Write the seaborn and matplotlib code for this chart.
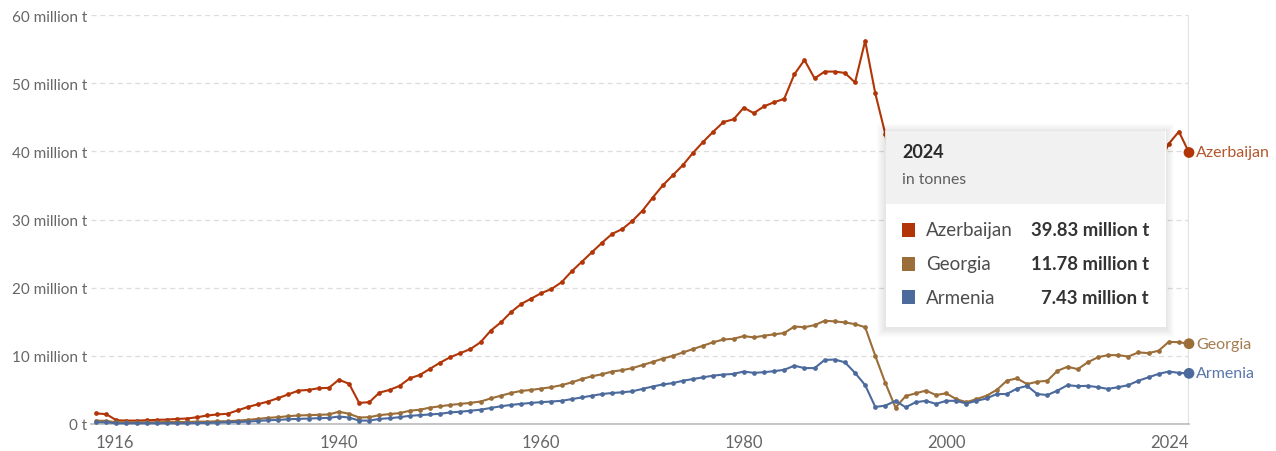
import matplotlib
matplotlib.use("Agg")
import matplotlib.pyplot as plt
import seaborn as sns
import pandas as pd
from matplotlib.patches import Rectangle

# ---------------- data ----------------
years = list(range(1916, 2025))

azerbaijan = [
    1.55, 1.45, 0.55, 0.5, 0.5, 0.55, 0.6, 0.65, 0.75, 0.8,            # 1916-1925
    1.0, 1.25, 1.4, 1.5, 2.0, 2.5, 2.9, 3.3, 3.8, 4.35,                # 1926-1935
    4.9, 5.0, 5.25, 5.3, 6.5, 5.9, 3.1, 3.2, 4.6, 5.0,                 # 1936-1945
    5.6, 6.7, 7.2, 8.1, 9.0, 9.8, 10.4, 11.0, 12.0, 13.7,              # 1946-1955
    14.9, 16.4, 17.6, 18.4, 19.2, 19.8, 20.8, 22.4, 23.8, 25.2,        # 1956-1965
    26.6, 27.9, 28.6, 29.8, 31.3, 33.2, 35.0, 36.5, 38.0, 39.8,        # 1966-1975
    41.4, 42.9, 44.3, 44.7, 46.4, 45.6, 46.6, 47.2, 47.7, 51.3,        # 1976-1985
    53.4, 50.7, 51.7, 51.7, 51.5, 50.1, 56.2, 48.5, 42.5, 31.0,        # 1986-1995
    29.8, 28.5, 29.5, 28.3, 28.7, 27.5, 27.9, 29.6, 31.5, 32.8,        # 1996-2005
    35.6, 28.6, 31.6, 28.0, 27.4, 29.8, 31.8, 32.4, 33.6, 34.7,        # 2006-2015
    34.3, 33.8, 34.9, 36.6, 35.4, 38.0, 41.1, 42.9, 39.83,             # 2016-2024
]
georgia = [
    0.5, 0.45, 0.25, 0.25, 0.25, 0.25, 0.25, 0.3, 0.3, 0.3,
    0.35, 0.35, 0.4, 0.4, 0.5, 0.6, 0.75, 0.9, 1.0, 1.15,
    1.25, 1.3, 1.35, 1.4, 1.8, 1.5, 0.95, 1.0, 1.3, 1.45,
    1.6, 1.95, 2.1, 2.4, 2.6, 2.8, 2.95, 3.1, 3.3, 3.75,
    4.15, 4.55, 4.85, 5.0, 5.2, 5.4, 5.7, 6.1, 6.6, 7.0,
    7.3, 7.7, 7.9, 8.2, 8.65, 9.1, 9.6, 10.0, 10.5, 11.0,
    11.5, 12.0, 12.4, 12.5, 12.9, 12.7, 12.95, 13.15, 13.35, 14.3,
    14.2, 14.5, 15.15, 15.05, 14.9, 14.65, 14.2, 10.0, 6.0, 2.4,
    4.1, 4.5, 4.9, 4.25, 4.5, 3.65, 3.2, 3.65, 4.15, 5.0,
    6.35, 6.7, 5.85, 6.2, 6.35, 7.8, 8.4, 8.05, 9.05, 9.8,
    10.1, 10.1, 9.9, 10.5, 10.4, 10.75, 12.05, 12.0, 11.78,
]
armenia = [
    0.25, 0.25, 0.1, 0.1, 0.1, 0.1, 0.1, 0.1, 0.1, 0.1,
    0.15, 0.15, 0.2, 0.25, 0.3, 0.35, 0.45, 0.55, 0.6, 0.7,
    0.75, 0.8, 0.85, 0.9, 1.1, 0.95, 0.5, 0.5, 0.75, 0.85,
    1.0, 1.2, 1.3, 1.4, 1.5, 1.7, 1.8, 1.95, 2.1, 2.35,
    2.6, 2.8, 2.95, 3.1, 3.2, 3.3, 3.4, 3.65, 3.9, 4.15,
    4.4, 4.55, 4.65, 4.8, 5.15, 5.5, 5.8, 6.0, 6.35, 6.6,
    6.85, 7.1, 7.25, 7.35, 7.7, 7.5, 7.6, 7.75, 7.95, 8.55,
    8.2, 8.2, 9.4, 9.45, 9.05, 7.5, 5.7, 2.5, 2.7, 3.4,
    2.45, 3.2, 3.4, 2.95, 3.4, 3.4, 3.0, 3.4, 3.75, 4.4,
    4.4, 5.2, 5.6, 4.4, 4.25, 4.9, 5.7, 5.55, 5.6, 5.4,
    5.15, 5.4, 5.7, 6.35, 6.85, 7.35, 7.7, 7.5, 7.43,
]

countries = ["Azerbaijan", "Georgia", "Armenia"]
series = {"Azerbaijan": azerbaijan, "Georgia": georgia, "Armenia": armenia}
tooltip_values = ["39.83 million t", "11.78 million t", "7.43 million t"]
tooltip_year = "2024"
tooltip_unit = "in tonnes"

y_ticks = [0, 10, 20, 30, 40, 50, 60]
y_tick_labels = ["0 t", "10 million t", "20 million t", "30 million t",
                 "40 million t", "50 million t", "60 million t"]
x_ticks = [1916, 1940, 1960, 1980, 2000, 2024]
x_tick_labels = ["1916", "1940", "1960", "1980", "2000", "2024"]

# ---------------- style ----------------
colors = {"Azerbaijan": "#b13507", "Georgia": "#9a6d39", "Armenia": "#4c6a9c"}
label_colors = {"Azerbaijan": "#b4562c", "Georgia": "#a27b4f", "Armenia": "#5a78aa"}

sns.set_theme(style="white")
plt.rcParams["font.family"] = ["Lato", "DejaVu Sans"]

W, H = 1276, 452
fig = plt.figure(figsize=(W / 100, H / 100), dpi=100)
fig.patch.set_facecolor("white")

def fx(px):
    return px / W

def fy(py):
    return 1 - py / H

ax_left, ax_right, ax_top, ax_bottom = 91, 1189, 16, 425
ax = fig.add_axes([fx(ax_left), fy(ax_bottom), (ax_right - ax_left) / W,
                   (ax_bottom - ax_top) / H])

df = pd.DataFrame([
    {"year": yr, "value": v, "country": c}
    for c in countries for yr, v in zip(years, series[c])
])

# hover line at last year
ax.axvline(2024, color="#e2e2e2", lw=1.6, zorder=1)

sns.lineplot(data=df, x="year", y="value", hue="country", hue_order=countries,
             palette=colors, marker="o", markersize=3.4, markeredgewidth=0,
             linewidth=1.5, legend=False, ax=ax, zorder=3, sort=True)
for ln in ax.lines[1:]:
    ln.set_clip_on(False)

last = df[df["year"] == years[-1]]
sns.scatterplot(data=last, x="year", y="value", hue="country", hue_order=countries,
                palette=colors, s=60, linewidth=0, legend=False, ax=ax,
                zorder=4, clip_on=False)

for c in countries:
    ax.annotate(c, xy=(years[-1], series[c][-1]), xytext=(5, 0),
                textcoords="offset points", va="center", ha="left",
                color=label_colors[c], fontsize=11.5, annotation_clip=False)

ax.set_xlim(1915.5, 2024)
ax.set_ylim(0, 60)
ax.set_xlabel("")
ax.set_ylabel("")

ax.set_yticks(y_ticks)
ax.set_yticklabels(y_tick_labels)
ax.tick_params(axis="y", length=0, pad=3, labelcolor="#666666", labelsize=11)
ax.set_xticks(x_ticks)
ax.set_xticklabels(x_tick_labels)
ax.tick_params(axis="x", length=5, width=1, color="#bbbbbb", direction="out",
               pad=2, labelcolor="#666666", labelsize=12)
xl = ax.get_xticklabels()
xl[0].set_ha("left")
xl[-1].set_ha("right")

ax.grid(axis="y", linestyle=(0, (4, 3)), color="#dddddd", lw=0.9)
ax.grid(axis="x", visible=False)
for s in ["top", "right", "left"]:
    ax.spines[s].set_visible(False)
ax.spines["bottom"].set_color("#bbbbbb")
ax.spines["bottom"].set_linewidth(1.2)

# ---------------- tooltip ----------------
bx0, bx1, by0, by1 = 885, 1166, 131, 328
for i in range(1, 9):
    fig.add_artist(Rectangle((fx(bx0 - i), fy(by1 + i + 2)), (bx1 - bx0 + 2 * i) / W,
                             (by1 - by0 + 2 * i) / H, transform=fig.transFigure,
                             fc="black", ec="none", alpha=0.012, zorder=9))
fig.add_artist(Rectangle((fx(bx0), fy(by1)), (bx1 - bx0) / W, (by1 - by0) / H,
                         transform=fig.transFigure, fc="white", ec="#e4e4e4",
                         lw=0.6, zorder=10))
fig.add_artist(Rectangle((fx(bx0) + 0.0005, fy(205)), (bx1 - bx0) / W - 0.001,
                         (205 - by0) / H - 0.002, transform=fig.transFigure,
                         fc="#f1f1f1", ec="none", zorder=10.5))
fig.text(fx(902), fy(153), tooltip_year, fontsize=13, fontweight="bold",
         color="#2b2b2b", va="center", ha="left", zorder=11)
fig.text(fx(902), fy(180), tooltip_unit, fontsize=11.3, color="#5e5e5e",
         va="center", ha="left", zorder=11)
row_y = [231, 265, 298]
for c, v, yy in zip(countries, tooltip_values, row_y):
    fig.add_artist(Rectangle((fx(902), fy(yy + 7)), 13 / W, 14 / H,
                             transform=fig.transFigure, fc=colors[c], ec="none",
                             zorder=11))
    fig.text(fx(926), fy(yy), c, fontsize=13.5, color="#4d4d4d", va="center",
             ha="left", zorder=11)
    fig.text(fx(1149), fy(yy), v, fontsize=13.3, fontweight="bold", color="#333333",
             va="center", ha="right", zorder=11)

fig.savefig("out.png", dpi=100, facecolor="white")
